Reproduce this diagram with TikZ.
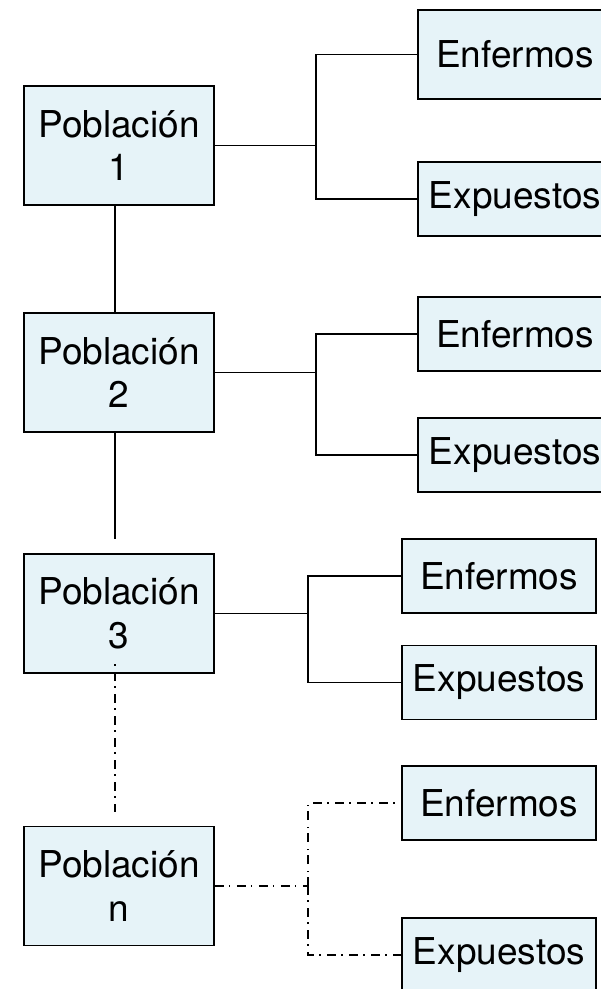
\documentclass[tikz,border=0pt]{standalone}
\usepackage{fontspec}
\setmainfont{TeX Gyre Heros}
\usetikzlibrary{calc}
\definecolor{cajafill}{RGB}{230,243,248}

\begin{document}
\begin{tikzpicture}[x=1pt,y=-1pt,
        pobl/.style={draw,line width=1.9pt,fill=cajafill,minimum width=190pt,minimum height=119pt,
                inner sep=0pt,align=center,font=\fontsize{37}{43.5}\selectfont},
        grupo/.style={draw,line width=1.9pt,fill=cajafill,minimum width=194pt,minimum height=74pt,
                inner sep=0pt,font=\fontsize{37}{43.5}\selectfont},
        enlace/.style={line width=1.6pt},
        punteado/.style={enlace,dash pattern=on 9pt off 5pt on 1.5pt off 6.5pt}]
        \clip (0,0) rectangle (601,989);
        \def\xa{515};
        \def\xb{499};
        % poblaciones
        \node[pobl] (P1) at (119,145.5) {Población\\1};
        \node[pobl] (P2) at (119,372.5) {Población\\2};
        \node[pobl] (P3) at (119,613.5) {Población\\3};
        \node[pobl] (Pn) at (119,886) {Población\\n};
        % grupos
        \node[grupo,minimum height=89pt] (E1) at (\xa,54.5) {Enfermos};
        \node[grupo] (X1) at (\xa,199) {Expuestos};
        \node[grupo] (E2) at (\xa,334) {Enfermos};
        \node[grupo] (X2) at (\xa,455) {Expuestos};
        \node[grupo] (E3) at (\xb,576) {Enfermos};
        \node[grupo] (X3) at (\xb,682.5) {Expuestos};
        \node[grupo] (En) at (\xb,803) {Enfermos};
        \node[grupo] (Xn) at (\xb,955) {Expuestos};
        % eje vertical
        \coordinate (v) at (115,0);
        \coordinate (c3) at (115,539);
        \coordinate (d3) at (115,664);
        \coordinate (dn) at (115,812);
        \draw[enlace] (P1.south -| v) -- (P2.north -| v);
        \draw[enlace] (P2.south -| v) -- (c3);
        \draw[punteado,dash phase=14pt] (d3) -- (dn);
        % ramas
        \coordinate (b1) at (316,145.5);
        \coordinate (b2) at (316,372.5);
        \coordinate (b3) at (308,613.5);
        \coordinate (bn) at (308,886);
        \draw[enlace] (P1.east) -- (b1);
        \draw[enlace] (E1.west) -| (b1) |- (X1.west);
        \draw[enlace] (P2.east) -- (b2);
        \draw[enlace] (E2.west) -| (b2) |- (X2.west);
        \draw[enlace] (P3.east) -- (b3);
        \draw[enlace] (E3.west) -| (b3) |- (X3.west);
        \draw[punteado] (Pn.east) -- (bn);
        \draw[punteado] (bn) |- (En.west);
        \draw[punteado] (bn) |- (Xn.west);
\end{tikzpicture}
\end{document}
